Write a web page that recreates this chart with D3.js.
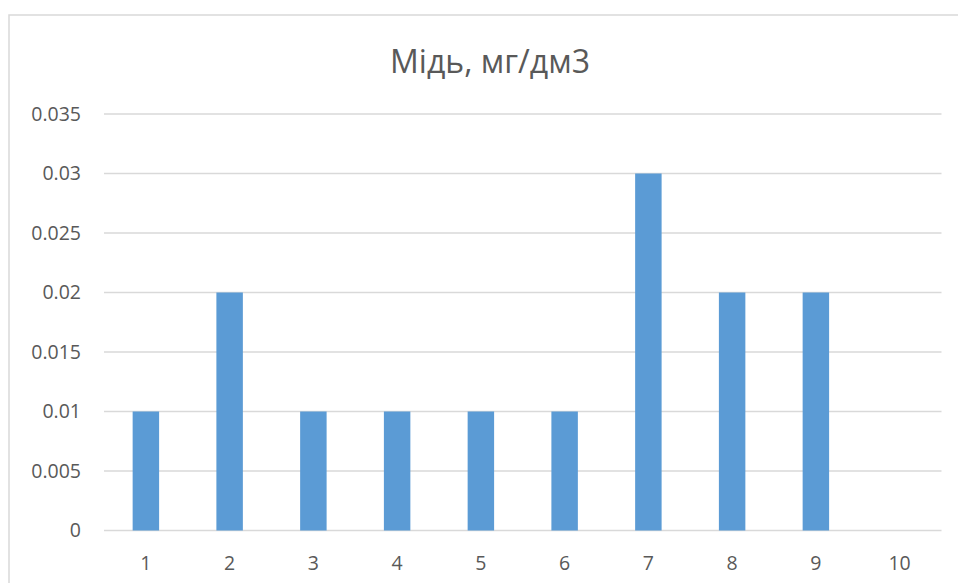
<!DOCTYPE html>
<html><head><meta charset="utf-8">
<script src="https://cdn.jsdelivr.net/npm/d3@7"></script>
<style>body{margin:0;background:#fff}svg{display:block}</style>
</head><body>
<svg id="c" width="958" height="583"></svg>
<script>
const title = "Мідь, мг/дм3";
const categories = ["1","2","3","4","5","6","7","8","9","10"];
const values = [0.01,0.02,0.01,0.01,0.01,0.01,0.03,0.02,0.02,0];
const yTicks = [0,0.005,0.01,0.015,0.02,0.025,0.03,0.035];

const svg = d3.select("#c");
const font = "'Open Sans', sans-serif";
const txt = "#595959";
// chart frame (cropped on right/bottom)
svg.append("rect").attr("x",9).attr("y",15).attr("width",1000).attr("height",1000)
  .attr("fill","none").attr("stroke","#d9d9d9").attr("stroke-width",1.5);

const x = d3.scaleBand().domain(categories).range([104,941.5]).paddingInner(0.684).paddingOuter(0.342);
const y = d3.scaleLinear().domain([0,0.035]).range([530.5,114]);

svg.append("g").selectAll("line").data(yTicks).join("line")
  .attr("x1",104).attr("x2",941.5).attr("y1",d=>y(d)).attr("y2",d=>y(d))
  .attr("stroke","#d9d9d9").attr("stroke-width",1.5);

svg.append("g").selectAll("rect").data(values).join("rect")
  .attr("x",(d,i)=>x(categories[i])).attr("width",x.bandwidth())
  .attr("y",d=>y(d)).attr("height",d=>y(0)-y(d)).attr("fill","#5b9bd5");

svg.append("g").selectAll("text").data(yTicks).join("text")
  .attr("x",81).attr("y",d=>y(d)).attr("dy","0.35em").attr("text-anchor","end")
  .attr("font-family",font).attr("font-size",19.5).attr("fill",txt).text(d=>String(d));

svg.append("g").selectAll("text").data(categories).join("text")
  .attr("x",d=>x(d)+x.bandwidth()/2).attr("y",563).attr("dy","0.35em").attr("text-anchor","middle")
  .attr("font-family",font).attr("font-size",19.5).attr("fill",txt).text(d=>d);

svg.append("text").attr("x",490).attr("y",62).attr("dy","0.35em").attr("text-anchor","middle")
  .attr("font-family",font).attr("font-size",32).attr("fill",txt).text(title);
</script>
</body></html>
